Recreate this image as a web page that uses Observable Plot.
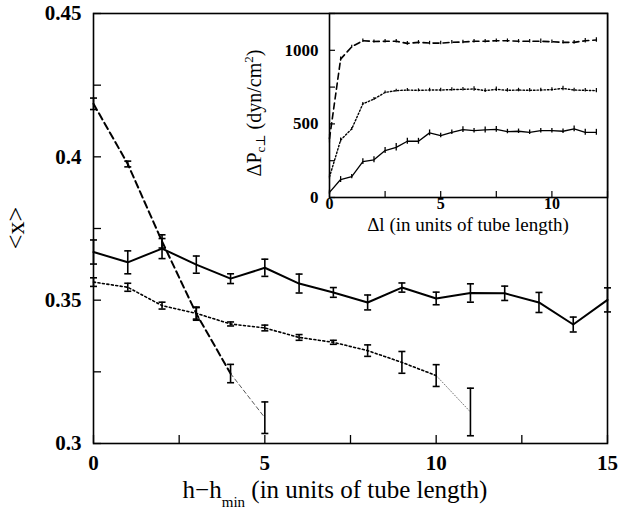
<!DOCTYPE html>
<html>
<head>
<meta charset="utf-8">
<script src="https://cdn.jsdelivr.net/npm/d3@7"></script>
<script src="https://cdn.jsdelivr.net/npm/@observablehq/plot@0.6"></script>
<style>
  body { margin: 0; background: #fff; }
  #chart { position: relative; width: 619px; height: 510px; }
  #chart svg { position: absolute; top: 0; }
  #chart svg text { font-family: "Liberation Serif", "Times New Roman", Times, "DejaVu Serif", serif; }
</style>
</head>
<body>
<div id="chart"></div>
<script>
// ---- main panel: <x> versus h - h_min ----
const hSolid = [0, 1, 2, 3, 4, 5, 6, 7, 8, 9, 10, 11, 12, 13, 14, 15];
const xSolid = [0.3668, 0.3632, 0.3680, 0.3624, 0.3575, 0.3613, 0.3558, 0.3527, 0.3492, 0.3544, 0.3506, 0.3525, 0.3524, 0.3492, 0.3415, 0.3501];
const eSolid = [0.0042, 0.0040, 0.0035, 0.0030, 0.0017, 0.0030, 0.0033, 0.0017, 0.0026, 0.0016, 0.0022, 0.0032, 0.0025, 0.0035, 0.0026, 0.0042];

const hDotted = [0, 1, 2, 3, 4, 5, 6, 7, 8, 9, 10, 11];
const xDotted = [0.3563, 0.3545, 0.3481, 0.3454, 0.3417, 0.3403, 0.3370, 0.3353, 0.3324, 0.3283, 0.3237, 0.3110];
const eDotted = [0.0015, 0.0014, 0.0012, 0.0020, 0.0007, 0.0010, 0.0010, 0.0007, 0.0020, 0.0038, 0.0038, 0.0083];

const hDashed = [0, 1, 2, 3, 4, 5];
const xDashed = [0.4185, 0.3975, 0.3705, 0.3453, 0.3244, 0.3090];
const eDashed = [0.0020, 0.0010, 0.0023, 0.0023, 0.0032, 0.0055];

const mainXTicks = [0, 2.5, 5, 7.5, 10, 12.5, 15];
const mainXLabels = [0, 5, 10, 15];
const mainYTicks = [0.3, 0.325, 0.35, 0.375, 0.4, 0.425, 0.45];
const mainYLabels = [0.3, 0.35, 0.4, 0.45];

// ---- inset: pressure difference versus delta l ----
const dl = [0, 0.5, 1, 1.5, 2, 2.5, 3, 3.5, 4, 4.5, 5, 5.5, 6, 6.5, 7, 7.5, 8, 8.5, 9, 9.5, 10, 10.5, 11, 11.5, 12];
const pSolid  = [35, 122, 142, 244, 256, 319, 341, 382, 382, 439, 421, 443, 461, 454, 459, 463, 448, 450, 443, 454, 454, 450, 466, 443, 443];
const pDotted = [140, 390, 466, 636, 669, 714, 726, 730, 728, 730, 730, 733, 735, 737, 726, 735, 728, 730, 728, 730, 733, 741, 730, 728, 726];
const pDashed = [400, 940, 1024, 1065, 1060, 1061, 1061, 1047, 1054, 1049, 1049, 1054, 1056, 1061, 1061, 1065, 1065, 1061, 1061, 1061, 1058, 1054, 1054, 1065, 1070];
const epSolid  = [15, 20, 15, 20, 20, 20, 25, 20, 20, 20, 15, 15, 20, 15, 20, 20, 15, 15, 15, 15, 15, 15, 20, 20, 20];
const epDotted = [15, 15, 10, 10, 10, 10, 10, 10, 10, 12, 12, 12, 12, 15, 12, 15, 12, 12, 12, 12, 12, 15, 12, 12, 15];
const epDashed = [30, 15, 10, 12, 10, 12, 12, 12, 12, 12, 12, 12, 12, 12, 12, 12, 12, 12, 12, 15, 12, 12, 12, 15, 15];

const insetXTicks = [0, 2.5, 5, 7.5, 10, 12.5];
const insetXLabels = [0, 5, 10];
const insetYTicks = [0, 250, 500, 750, 1000, 1250];
const insetYLabels = [0, 500, 1000];

const rows = (xs, ys, es) => xs.map((x, i) => ({x, y: ys[i], e: es[i]}));
const solidRows = rows(hSolid, xSolid, eSolid);
const dottedRows = rows(hDotted, xDotted, eDotted);
const dashedRows = rows(hDashed, xDashed, eDashed);
const inSolid = rows(dl, pSolid, epSolid);
const inDotted = rows(dl, pDotted, epDotted);
const inDashed = rows(dl, pDashed, epDashed);

// short horizontal bar used as the error-bar cap
const cap = {
  draw(ctx, size) {
    const w = Math.sqrt(size / Math.PI);
    ctx.moveTo(-w, 0);
    ctx.lineTo(w, 0);
  }
};

function errorBars(data, width) {
  return [
    Plot.ruleX(data, {x: "x", y1: d => d.y - d.e, y2: d => d.y + d.e, stroke: "black", strokeWidth: width}),
    Plot.dot(data, {x: "x", y: d => d.y - d.e, symbol: cap, r: 3.5, stroke: "black", strokeWidth: width, fill: "none"}),
    Plot.dot(data, {x: "x", y: d => d.y + d.e, symbol: cap, r: 3.5, stroke: "black", strokeWidth: width, fill: "none"})
  ];
}

const serif = "'Liberation Serif', 'Times New Roman', Times, 'DejaVu Serif', serif";
const mainW = 619, mainH = 510;
const mL = 93, mR = 12, mT = 13, mB = 67;
const frameW = mainW - mL - mR, frameH = mainH - mT - mB;

const main = Plot.plot({
  width: mainW,
  height: mainH,
  marginLeft: mL, marginRight: mR, marginTop: mT, marginBottom: mB,
  style: `font-family: ${serif}; background: white; color: black;`,
  x: {domain: [0, 15]},
  y: {domain: [0.3, 0.45]},
  marks: [
    Plot.tickX(mainXTicks, {x: d => d, insetTop: frameH - 8, stroke: "black", strokeWidth: 1.3}),
    Plot.tickY(mainYTicks, {y: d => d, insetRight: frameW - 8, stroke: "black", strokeWidth: 1.3}),
    Plot.axisX({ticks: mainXLabels, tickSize: 0, tickPadding: 12, fontSize: 21, fontWeight: "bold", fontFamily: serif, tickFormat: d => String(d), label: null}),
    Plot.axisY({ticks: mainYLabels, tickSize: 0, tickPadding: 12, fontSize: 21, fontWeight: "bold", fontFamily: serif, tickFormat: d => String(d), label: null}),
    // solid series
    Plot.line(solidRows, {x: "x", y: "y", stroke: "black", strokeWidth: 2}),
    ...errorBars(solidRows, 1.6),
    // dotted series, last stretch drawn faint
    Plot.line(dottedRows, {filter: d => d.x <= 10, x: "x", y: "y", stroke: "black", strokeWidth: 1.6, strokeDasharray: "2,2.5"}),
    Plot.line(dottedRows, {filter: d => d.x >= 10, x: "x", y: "y", stroke: "#555", strokeWidth: 0.8, strokeDasharray: "1,2"}),
    ...errorBars(dottedRows, 1.6),
    // dashed series, last stretch drawn faint
    Plot.line(dashedRows, {filter: d => d.x <= 4, x: "x", y: "y", stroke: "black", strokeWidth: 2, strokeDasharray: "7,4"}),
    Plot.line(dashedRows, {filter: d => d.x >= 4, x: "x", y: "y", stroke: "#444", strokeWidth: 0.9, strokeDasharray: "4,3"}),
    ...errorBars(dashedRows, 1.6),
    Plot.frame({stroke: "black", strokeWidth: 1.6})
  ]
});
main.style.left = "0px";

const ms = d3.select(main);
const xLabel = ms.append("text")
  .attr("x", 335).attr("y", 498)
  .attr("text-anchor", "middle")
  .attr("font-family", serif).attr("font-size", 25).attr("fill", "black");
xLabel.append("tspan").text("h\u2212h");
xLabel.append("tspan").attr("font-size", 15).attr("dy", 9).text("min");
xLabel.append("tspan").attr("dy", -9).text(" (in units of tube length)");

ms.append("text")
  .attr("transform", "translate(24,228) rotate(-90)")
  .attr("text-anchor", "middle")
  .attr("font-family", serif).attr("font-size", 26).attr("fill", "black")
  .text("<x>");

// ---- inset ----
const iW = 379, iH = 240, iL = 89, iR = 12, iT = 13, iB = 43;
const iFrameW = iW - iL - iR, iFrameH = iH - iT - iB;

const inset = Plot.plot({
  width: iW,
  height: iH,
  marginLeft: iL, marginRight: iR, marginTop: iT, marginBottom: iB,
  style: `font-family: ${serif}; background: transparent; color: black; overflow: visible;`,
  x: {domain: [0, 12.5]},
  y: {domain: [0, 1250]},
  marks: [
    Plot.frame({fill: "white", stroke: "none"}),
    Plot.tickX(insetXTicks, {x: d => d, insetTop: iFrameH - 6, stroke: "black", strokeWidth: 1.2}),
    Plot.tickY(insetYTicks, {y: d => d, insetRight: iFrameW - 6, stroke: "black", strokeWidth: 1.2}),
    Plot.axisX({ticks: insetXLabels, tickSize: 0, tickPadding: 0, fontSize: 16, fontWeight: "bold", fontFamily: serif, tickFormat: d => String(d), label: null}),
    Plot.axisY({ticks: insetYLabels, tickSize: 0, tickPadding: 11, fontSize: 17, fontWeight: "bold", fontFamily: serif, tickFormat: d => String(d), label: null}),
    Plot.line(inSolid, {x: "x", y: "y", stroke: "black", strokeWidth: 1.3}),
    Plot.ruleX(inSolid, {x: "x", y1: d => d.y - d.e, y2: d => d.y + d.e, stroke: "black", strokeWidth: 1.3}),
    Plot.line(inDotted, {x: "x", y: "y", stroke: "black", strokeWidth: 1.4, strokeDasharray: "1.5,2"}),
    Plot.ruleX(inDotted, {x: "x", y1: d => d.y - d.e, y2: d => d.y + d.e, stroke: "black", strokeWidth: 1.2}),
    Plot.line(inDashed, {x: "x", y: "y", stroke: "black", strokeWidth: 1.6, strokeDasharray: "6,4"}),
    Plot.ruleX(inDashed, {x: "x", y1: d => d.y - d.e, y2: d => d.y + d.e, stroke: "black", strokeWidth: 1.2}),
    Plot.frame({stroke: "black", strokeWidth: 1.6})
  ]
});
inset.style.left = "240px";

const is = d3.select(inset);
is.append("text")
  .attr("x", 228).attr("y", 231)
  .attr("text-anchor", "middle")
  .attr("font-family", serif).attr("font-size", 19).attr("fill", "black")
  .text("\u0394l (in units of tube length)");

const yLabel = is.append("text")
  .attr("transform", "translate(21,113) rotate(-90)")
  .attr("text-anchor", "middle")
  .attr("font-family", serif).attr("font-size", 20).attr("fill", "black");
yLabel.append("tspan").text("\u0394P");
yLabel.append("tspan").attr("font-size", 13).attr("dy", 4).text("c\u22A5");
yLabel.append("tspan").attr("dy", -4).text(" (dyn/cm");
yLabel.append("tspan").attr("font-size", 13).attr("dy", -8).text("2");
yLabel.append("tspan").attr("dy", 8).text(")");

const chart = document.getElementById("chart");
chart.appendChild(main);
chart.appendChild(inset);
</script>
</body>
</html>
